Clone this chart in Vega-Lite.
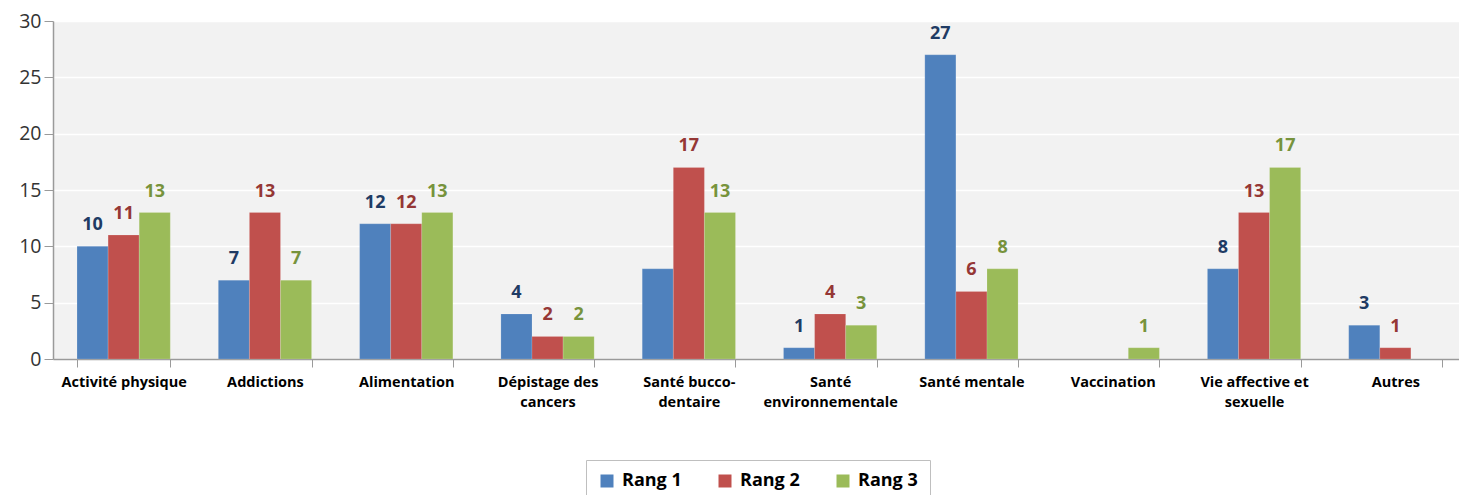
{
  "$schema": "https://vega.github.io/schema/vega-lite/v6.json",
  "width": 1413,
  "height": 338,
  "autosize": "none",
  "padding": {"left": 53, "top": 21, "right": 0, "bottom": 136},
  "background": "white",
  "config": {
    "font": "Open Sans",
    "view": {"fill": "#F2F2F2", "stroke": null}
  },
  "data": {
    "values": [
      {"theme": "Activité physique", "rang": "Rang 1", "value": 10, "label": "10"},
      {"theme": "Activité physique", "rang": "Rang 2", "value": 11, "label": "11"},
      {"theme": "Activité physique", "rang": "Rang 3", "value": 13, "label": "13"},
      {"theme": "Addictions", "rang": "Rang 1", "value": 7, "label": "7"},
      {"theme": "Addictions", "rang": "Rang 2", "value": 13, "label": "13"},
      {"theme": "Addictions", "rang": "Rang 3", "value": 7, "label": "7"},
      {"theme": "Alimentation", "rang": "Rang 1", "value": 12, "label": "12"},
      {"theme": "Alimentation", "rang": "Rang 2", "value": 12, "label": "12"},
      {"theme": "Alimentation", "rang": "Rang 3", "value": 13, "label": "13"},
      {"theme": "Dépistage des cancers", "rang": "Rang 1", "value": 4, "label": "4"},
      {"theme": "Dépistage des cancers", "rang": "Rang 2", "value": 2, "label": "2"},
      {"theme": "Dépistage des cancers", "rang": "Rang 3", "value": 2, "label": "2"},
      {"theme": "Santé bucco-dentaire", "rang": "Rang 1", "value": 8, "label": ""},
      {"theme": "Santé bucco-dentaire", "rang": "Rang 2", "value": 17, "label": "17"},
      {"theme": "Santé bucco-dentaire", "rang": "Rang 3", "value": 13, "label": "13"},
      {"theme": "Santé environnementale", "rang": "Rang 1", "value": 1, "label": "1"},
      {"theme": "Santé environnementale", "rang": "Rang 2", "value": 4, "label": "4"},
      {"theme": "Santé environnementale", "rang": "Rang 3", "value": 3, "label": "3"},
      {"theme": "Santé mentale", "rang": "Rang 1", "value": 27, "label": "27"},
      {"theme": "Santé mentale", "rang": "Rang 2", "value": 6, "label": "6"},
      {"theme": "Santé mentale", "rang": "Rang 3", "value": 8, "label": "8"},
      {"theme": "Vaccination", "rang": "Rang 3", "value": 1, "label": "1"},
      {"theme": "Vie affective et sexuelle", "rang": "Rang 1", "value": 8, "label": "8"},
      {"theme": "Vie affective et sexuelle", "rang": "Rang 2", "value": 13, "label": "13"},
      {"theme": "Vie affective et sexuelle", "rang": "Rang 3", "value": 17, "label": "17"},
      {"theme": "Autres", "rang": "Rang 1", "value": 3, "label": "3"},
      {"theme": "Autres", "rang": "Rang 2", "value": 1, "label": "1"}
    ]
  },
  "encoding": {
    "x": {
      "field": "theme",
      "type": "nominal",
      "sort": null,
      "scale": {"paddingInner": 0.34, "paddingOuter": 0.17},
      "axis": {
        "title": null,
        "labelAngle": 0,
        "labelFont": "Open Sans",
        "labelFontSize": 14.5,
        "labelFontWeight": "bold",
        "labelColor": "#000000",
        "labelPadding": 8,
        "labelLineHeight": 20,
        "tickBand": "extent",
        "tickSize": 8,
        "tickColor": "#9a9a9a",
        "domainColor": "#9a9a9a",
        "domainWidth": 1.5,
        "labelExpr": "datum.value == 'Dépistage des cancers' ? ['Dépistage des', 'cancers'] : datum.value == 'Santé bucco-dentaire' ? ['Santé bucco-', 'dentaire'] : datum.value == 'Santé environnementale' ? ['Santé', 'environnementale'] : datum.value == 'Vie affective et sexuelle' ? ['Vie affective et', 'sexuelle'] : datum.value"
      }
    },
    "xOffset": {"field": "rang", "type": "nominal", "scale": {"paddingInner": 0, "domain": ["Rang 1", "Rang 2", "Rang 3"]}},
    "y": {
      "field": "value",
      "type": "quantitative",
      "scale": {"domain": [0, 30]},
      "axis": {
        "title": null,
        "values": [0, 5, 10, 15, 20, 25, 30],
        "labelFont": "Open Sans",
        "labelFontSize": 19.5,
        "labelColor": "#333333",
        "tickSize": 9,
        "tickColor": "#9a9a9a",
        "domainColor": "#9a9a9a",
        "domainWidth": 1.5,
        "labelPadding": 3,
        "gridColor": "#ffffff",
        "gridWidth": 1.5
      }
    }
  },
  "layer": [
    {
      "mark": {"type": "bar", "stroke": "#ffffff", "strokeOpacity": 0.3, "strokeWidth": 0.5},
      "encoding": {
        "color": {
          "field": "rang",
          "type": "nominal",
          "scale": {"domain": ["Rang 1", "Rang 2", "Rang 3"], "range": ["#4F81BD", "#C0504D", "#9BBB59"]},
          "legend": {
            "title": null,
            "orient": "none",
            "legendX": 533,
            "legendY": 439,
            "direction": "horizontal",
            "symbolType": "square",
            "symbolSize": 169,
            "symbolStrokeWidth": 0,
            "labelFont": "Open Sans",
            "labelFontSize": 18,
            "labelFontWeight": "bold",
            "labelColor": "#000000",
            "labelOffset": 6,
            "columnPadding": 34,
            "strokeColor": "#bfbfbf",
            "padding": 12
          }
        }
      }
    },
    {
      "mark": {"type": "text", "dy": -21, "fontSize": 18, "fontWeight": "bold", "font": "Open Sans"},
      "encoding": {
        "text": {"field": "label"},
        "color": {
          "field": "rang",
          "type": "nominal",
          "scale": {"domain": ["Rang 1", "Rang 2", "Rang 3"], "range": ["#1F3B64", "#953735", "#77933C"]},
          "legend": null
        }
      }
    }
  ],
  "resolve": {"scale": {"color": "independent"}}
}
